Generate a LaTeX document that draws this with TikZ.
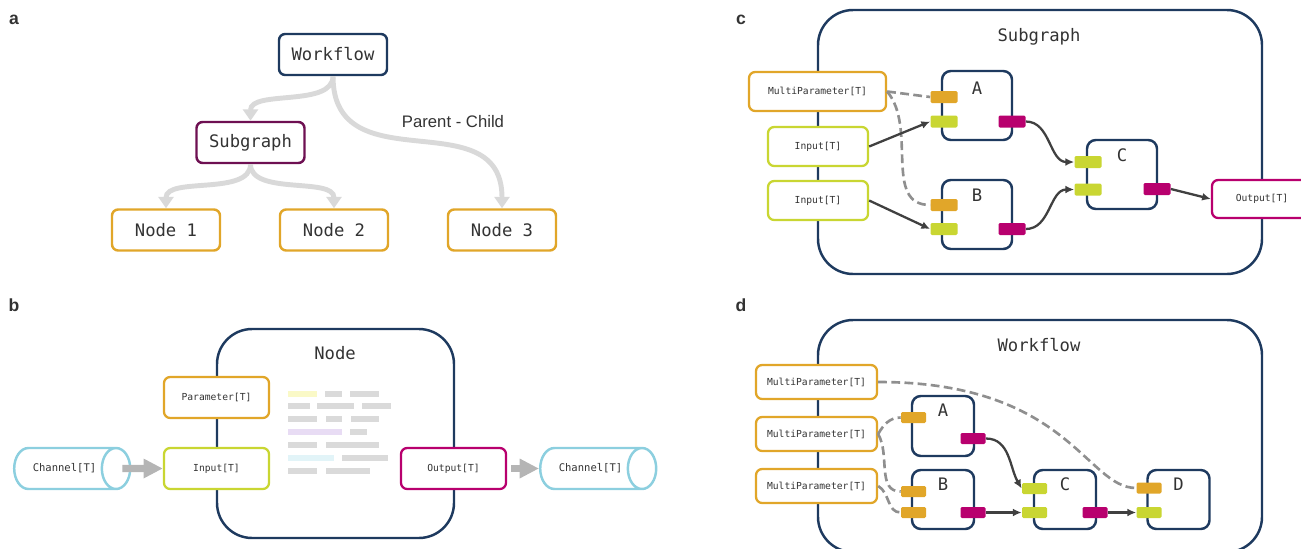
\documentclass[tikz,border=0pt]{standalone}
\usepackage{fontspec}
\setmonofont{DejaVu Sans Mono}
\setsansfont{Liberation Sans}
\usetikzlibrary{arrows.meta,shapes.geometric}
\newlength\unitpx
\setlength\unitpx{0.02cm}
\definecolor{navy}{HTML}{1E3A5F}
\definecolor{plum}{HTML}{6E1052}
\definecolor{amber}{HTML}{E1A629}
\definecolor{lime}{HTML}{C9D632}
\definecolor{berry}{HTML}{B8006E}
\definecolor{sky}{HTML}{8CCFDF}
\definecolor{ink}{HTML}{333333}
\definecolor{treegray}{HTML}{D9D9D9}
\definecolor{blockgray}{HTML}{B5B5B5}
\definecolor{dashgray}{HTML}{8F8F8F}
\definecolor{flowgray}{HTML}{404040}
\definecolor{codegray}{HTML}{DADADA}
\definecolor{codeyellow}{HTML}{FAF9C7}
\definecolor{codepurple}{HTML}{E8DCF4}
\definecolor{codeblue}{HTML}{E2F4F8}
\newcommand\monotitle{\ttfamily\fontsize{9.8}{12}\selectfont}
\newcommand\monosmall{\ttfamily\fontsize{5.5}{7}\selectfont}
\tikzset{
  tag/.style={font=\sffamily\bfseries\fontsize{10}{12}\selectfont, text=ink, inner sep=0},
  treebox/.style={draw, line width=1.4pt, rounded corners=3.5pt, fill=white,
    minimum width=108\unitpx, minimum height=41\unitpx, font=\monotitle, text=ink},
  iobox/.style={draw, line width=1.3pt, rounded corners=3.5pt, fill=white,
    minimum height=40\unitpx, inner sep=0, font=\monosmall, text=ink},
  frame/.style={draw=navy, line width=1.4pt, rounded corners=20pt},
  paneltitle/.style={font=\monotitle, text=ink, inner sep=0},
  task/.style={draw=navy, line width=1.4pt, rounded corners=5pt, fill=white},
  port/.style={inner sep=0, rounded corners=0.8pt, minimum width=27\unitpx, minimum height=12\unitpx},
  tree link/.style={draw=treegray, line width=2.8pt, -{Triangle[length=6.5pt,width=8.5pt]}},
  block link/.style={draw=blockgray, line width=4pt, -{Triangle[length=11pt,width=10.5pt]}},
  flow/.style={draw=flowgray, line width=1.3pt, -{Latex[length=5pt,width=4.5pt]}},
  param link/.style={draw=dashgray, line width=1.5pt, dash pattern=on 5pt off 2.5pt},
  channel/.style={cylinder, draw=sky, line width=1.4pt, fill=white, aspect=3,
    minimum width=41\unitpx, minimum height=116\unitpx, inner sep=0,
    font=\ttfamily\fontsize{6}{7}\selectfont, text=ink}
}
\begin{document}
\begin{tikzpicture}[x=\unitpx, y=\unitpx]
\useasboundingbox (0,0) rectangle (1301,-548);

% panel a: parent - child tree
\node[tag] (taga) at (14,-20) {a};
\node[treebox, draw=navy] (wf) at (333,-54.5) {Workflow};
\node[treebox, draw=plum] (sg) at (250.5,-142.5) {Subgraph};
\node[treebox, draw=amber] (n1) at (166,-230) {Node 1};
\node[treebox, draw=amber] (n2) at (334,-230) {Node 2};
\node[treebox, draw=amber] (n3) at (502,-230) {Node 3};
\draw[tree link] (wf.south) to[out=-90,in=90,looseness=0.85] (sg.north);
\draw[tree link] (wf.south) to[out=-90,in=90,looseness=1.3] (n3.north);
\draw[tree link] (sg.south) to[out=-90,in=90,looseness=0.85] (n1.north);
\draw[tree link] (sg.south) to[out=-90,in=90,looseness=0.85] (n2.north);
\node[font=\sffamily\fontsize{9.5}{11}\selectfont, text=ink] (pc) at (453,-122) {Parent - Child};

% panel b: a single node
\node[tag] (tagb) at (14,-305) {b};
\draw[frame] (217,-329) rectangle (454,-538);
\node[paneltitle] (nodetitle) at (335,-353) {Node};
\node[iobox, draw=amber, minimum width=105\unitpx, minimum height=41\unitpx] (par) at (216.5,-397.5) {Parameter[T]};
\node[iobox, draw=lime, minimum width=105\unitpx, minimum height=41\unitpx] (inp) at (216.5,-468.5) {Input[T]};
\node[iobox, draw=berry, minimum width=105\unitpx, minimum height=41\unitpx] (outp) at (453.5,-468.5) {Output[T]};
\node[channel] (ch1) at (64.5,-468.5) {Channel[T]};
\node[channel] (ch2) at (590.5,-468.5) {Channel[T]};
\draw[block link] ([xshift=-9\unitpx]ch1.east) -- (inp.west);
\draw[block link] ([xshift=4\unitpx]outp.east) -- (ch2.west);
\foreach \xa/\xb/\yy/\cc in {288/317/393.5/codeyellow, 325/342/393.5/codegray, 350/379/393.5/codegray,
    288/310/406/codegray, 317/354/406/codegray, 362/391/406/codegray,
    288/317/419/codegray, 326/342/419/codegray, 351/379/419/codegray,
    288/342/432/codepurple, 350/367/432/codegray,
    288/317/445/codegray, 326/379/445/codegray,
    288/334/458/codeblue, 342/388/458/codegray,
    288/317/471/codegray, 326/370/471/codegray}
  \fill[\cc] (\xa,-\yy+3) rectangle (\xb,-\yy-3);

% panel c: subgraph
\node[tag] (tagc) at (741,-20) {c};
\draw[frame] (818,-10) rectangle (1262,-274);
\node[paneltitle] (subtitle) at (1039,-37) {Subgraph};
\node[iobox, draw=amber, minimum width=137\unitpx, minimum height=39\unitpx] (mpc) at (817.5,-91.5) {MultiParameter[T]};
\node[iobox, draw=lime, minimum width=100\unitpx, minimum height=39\unitpx] (inc1) at (818,-146.5) {Input[T]};
\node[iobox, draw=lime, minimum width=100\unitpx, minimum height=39\unitpx] (inc2) at (818,-200.5) {Input[T]};
\node[iobox, draw=berry, minimum width=100\unitpx, minimum height=38\unitpx] (outc) at (1262,-199) {Output[T]};
\node[task, minimum width=70\unitpx, minimum height=69\unitpx,
  label={[paneltitle, anchor=north, yshift=-12\unitpx]north:A}] (ca) at (977,-105.5) {};
\node[task, minimum width=70\unitpx, minimum height=69\unitpx,
  label={[paneltitle, anchor=north, yshift=-10\unitpx]north:B}] (cb) at (977,-214.5) {};
\node[task, minimum width=70\unitpx, minimum height=69\unitpx,
  label={[paneltitle, anchor=north, yshift=-10\unitpx]north:C}] (cc) at (1122,-174.5) {};
\node[port, fill=amber] (ca-par) at (944,-97) {};
\node[port, fill=lime] (ca-in) at (944,-121.5) {};
\node[port, fill=berry] (ca-out) at (1012,-121.5) {};
\node[port, fill=amber] (cb-par) at (944,-205) {};
\node[port, fill=lime] (cb-in) at (944,-229) {};
\node[port, fill=berry] (cb-out) at (1012,-229) {};
\node[port, fill=lime] (cc-in1) at (1088,-162) {};
\node[port, fill=lime] (cc-in2) at (1088,-189.5) {};
\node[port, fill=berry] (cc-out) at (1157,-189) {};
\draw[param link] (mpc.east) -- (ca-par.west);
\draw[param link] (mpc.east) to[out=-50,in=180] (cb-par.west);
\draw[flow] (inc1.east) -- (ca-in.west);
\draw[flow] (inc2.east) -- (cb-in.west);
\draw[flow] (ca-out.east) to[out=0,in=180] (cc-in1.west);
\draw[flow] (cb-out.east) to[out=0,in=180] (cc-in2.west);
\draw[flow] (cc-out.east) -- (outc.west);

% panel d: workflow
\node[tag] (tagd) at (741,-305) {d};
\draw[frame] (818,-320) rectangle (1262,-552);
\node[paneltitle] (wftitle) at (1039,-345) {Workflow};
\node[iobox, draw=amber, minimum width=121\unitpx, minimum height=34\unitpx] (mpd1) at (816.5,-382) {MultiParameter[T]};
\node[iobox, draw=amber, minimum width=121\unitpx, minimum height=34\unitpx] (mpd2) at (816.5,-434) {MultiParameter[T]};
\node[iobox, draw=amber, minimum width=121\unitpx, minimum height=34\unitpx] (mpd3) at (816.5,-486) {MultiParameter[T]};
\node[task, minimum width=62\unitpx, minimum height=60\unitpx,
  label={[paneltitle, anchor=north, yshift=-9\unitpx]north:A}] (da) at (943,-426) {};
\node[task, minimum width=62\unitpx, minimum height=59\unitpx,
  label={[paneltitle, anchor=north, yshift=-9\unitpx]north:B}] (db) at (943,-499.5) {};
\node[task, minimum width=62\unitpx, minimum height=59\unitpx,
  label={[paneltitle, anchor=north, yshift=-9\unitpx]north:C}] (dc) at (1065,-499.5) {};
\node[task, minimum width=62\unitpx, minimum height=59\unitpx,
  label={[paneltitle, anchor=north, yshift=-9\unitpx]north:D}] (dd) at (1178.5,-499.5) {};
\node[port, fill=amber, minimum width=25\unitpx, minimum height=11\unitpx] (da-par) at (913.5,-417.5) {};
\node[port, fill=berry, minimum width=25\unitpx, minimum height=11\unitpx] (da-out) at (973,-438.5) {};
\node[port, fill=amber, minimum width=25\unitpx, minimum height=11\unitpx] (db-par1) at (913.5,-491.5) {};
\node[port, fill=amber, minimum width=25\unitpx, minimum height=11\unitpx] (db-par2) at (913.5,-512.5) {};
\node[port, fill=berry, minimum width=25\unitpx, minimum height=11\unitpx] (db-out) at (973,-512.5) {};
\node[port, fill=lime, minimum width=25\unitpx, minimum height=11\unitpx] (dc-in1) at (1034.5,-488.5) {};
\node[port, fill=lime, minimum width=25\unitpx, minimum height=11\unitpx] (dc-in2) at (1034.5,-512.5) {};
\node[port, fill=berry, minimum width=25\unitpx, minimum height=11\unitpx] (dc-out) at (1095,-512.5) {};
\node[port, fill=amber, minimum width=25\unitpx, minimum height=11\unitpx] (dd-par) at (1149,-488) {};
\node[port, fill=lime, minimum width=25\unitpx, minimum height=11\unitpx] (dd-in) at (1149,-512.5) {};
\draw[param link] (mpd1.east) .. controls +(190,0) and +(-50,0) .. (dd-par.west);
\draw[param link] (mpd2.east) to[out=60,in=180] (da-par.west);
\draw[param link] (mpd2.east) to[out=-60,in=180] (db-par1.west);
\draw[param link] (mpd3.east) to[out=-30,in=180] (db-par2.west);
\draw[flow] (da-out.east) to[out=0,in=120] (dc-in1.west);
\draw[flow] (db-out.east) -- (dc-in2.west);
\draw[flow] (dc-out.east) -- (dd-in.west);
\end{tikzpicture}
\end{document}
